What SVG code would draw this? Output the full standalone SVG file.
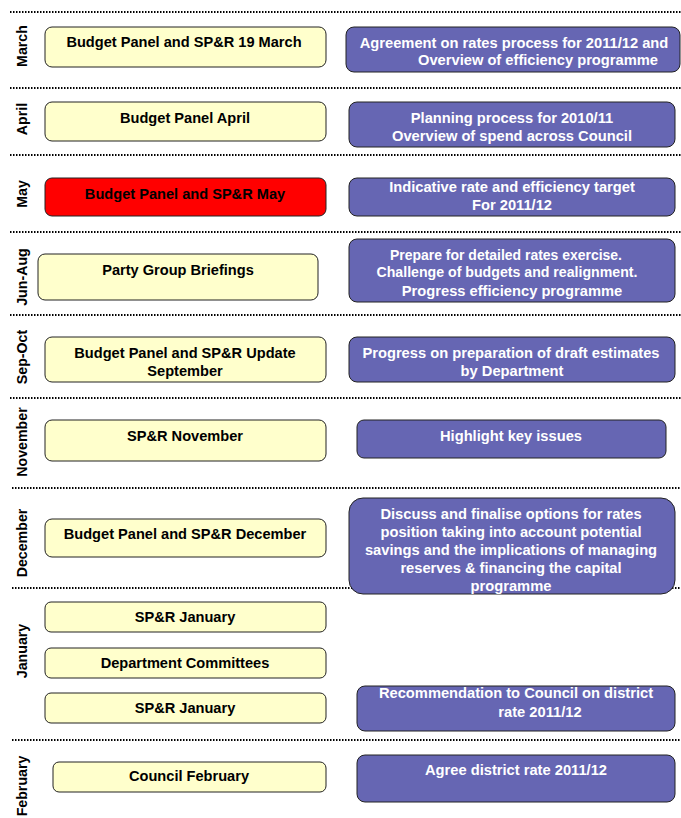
<svg xmlns="http://www.w3.org/2000/svg" width="681" height="818" viewBox="0 0 681 818">
<style>
text{font-family:"Liberation Sans",Arial,sans-serif;font-weight:bold;font-size:14.6px}
.y rect{fill:#FFFFCC;stroke:#222;stroke-width:1}
.r rect{fill:#FF0000;stroke:#222;stroke-width:1}
.p rect{fill:#6666B3;stroke:#222;stroke-width:1}
.y text,.r text{fill:#000;text-anchor:middle}
.p text{fill:#fff;text-anchor:middle;font-size:14.7px}
.m{fill:#000;text-anchor:middle;font-size:14.2px}
.sep line{stroke:#000;stroke-width:2;stroke-dasharray:1.5 1.5}
</style>
<g id="separators" class="sep">
<line x1="10" y1="12" x2="681" y2="12"/>
<line x1="10" y1="88" x2="681" y2="88"/>
<line x1="10" y1="155" x2="681" y2="155"/>
<line x1="10" y1="232" x2="681" y2="232"/>
<line x1="10" y1="315" x2="681" y2="315"/>
<line x1="10" y1="398" x2="681" y2="398"/>
<line x1="12" y1="488" x2="681" y2="488"/>
<line x1="12" y1="588" x2="681" y2="588"/>
<line x1="12" y1="740" x2="681" y2="740"/>
</g>
<g id="months">
<text class="m" transform="translate(27,46) rotate(-90)">March</text>
<text class="m" transform="translate(27,119) rotate(-90)">April</text>
<text class="m" transform="translate(27,194) rotate(-90)">May</text>
<text class="m" transform="translate(27,277) rotate(-90)">Jun-Aug</text>
<text class="m" transform="translate(27,357) rotate(-90)">Sep-Oct</text>
<text class="m" transform="translate(27,442) rotate(-90)">November</text>
<text class="m" transform="translate(27,543) rotate(-90)">December</text>
<text class="m" transform="translate(27,651) rotate(-90)">January</text>
<text class="m" transform="translate(27,786) rotate(-90)">February</text>
</g>
<g id="n-march" class="y"><rect x="45" y="27" width="281" height="40" rx="7"/><text x="184" y="47">Budget Panel and SP&amp;R 19 March</text></g>
<g id="n-april" class="y"><rect x="45" y="102" width="281" height="39" rx="7"/><text x="185" y="123">Budget Panel April</text></g>
<g id="n-may" class="r"><rect x="45" y="178" width="281" height="38" rx="7"/><text x="185" y="199">Budget Panel and SP&amp;R May</text></g>
<g id="n-junaug" class="y"><rect x="38" y="254" width="280" height="46" rx="7"/><text x="178" y="275">Party Group Briefings</text></g>
<g id="n-sepoct" class="y"><rect x="45" y="337" width="281" height="45" rx="7"/><text x="185" y="358">Budget Panel and SP&amp;R Update</text><text x="185" y="376">September</text></g>
<g id="n-november" class="y"><rect x="45" y="420" width="281" height="41" rx="7"/><text x="185" y="441">SP&amp;R November</text></g>
<g id="n-december" class="y"><rect x="45" y="519" width="281" height="38" rx="7"/><text x="185" y="539">Budget Panel and SP&amp;R December</text></g>
<g id="n-jan1" class="y"><rect x="45" y="602" width="281" height="30" rx="6"/><text x="185" y="622">SP&amp;R January</text></g>
<g id="n-jan2" class="y"><rect x="45" y="648" width="281" height="30" rx="6"/><text x="185" y="668">Department Committees</text></g>
<g id="n-jan3" class="y"><rect x="45" y="693" width="281" height="30" rx="6"/><text x="185" y="713">SP&amp;R January</text></g>
<g id="n-feb" class="y"><rect x="53" y="762" width="273" height="30" rx="6"/><text x="189" y="781">Council February</text></g>
<g id="p-march" class="p"><rect x="346" y="27" width="334" height="45" rx="8"/><text x="514" y="48">Agreement on rates process for 2011/12 and</text><text x="538" y="65">Overview of efficiency programme</text></g>
<g id="p-april" class="p"><rect x="349" y="102" width="326" height="45" rx="8"/><text x="512" y="123">Planning process for 2010/11</text><text x="512" y="141">Overview of spend across Council</text></g>
<g id="p-may" class="p"><rect x="349" y="178" width="326" height="38" rx="8"/><text x="512" y="192">Indicative rate and efficiency target</text><text x="512" y="210">For 2011/12</text></g>
<g id="p-junaug" class="p"><rect x="349" y="239" width="326" height="63" rx="8"/><text x="506" y="260" textLength="232" lengthAdjust="spacingAndGlyphs">Prepare for detailed rates exercise.</text><text x="507" y="277" textLength="261" lengthAdjust="spacingAndGlyphs">Challenge of budgets and realignment.</text><text x="512" y="296">Progress efficiency programme</text></g>
<g id="p-sepoct" class="p"><rect x="349" y="337" width="326" height="45" rx="8"/><text x="511" y="358">Progress on preparation of draft estimates</text><text x="512" y="376">by Department</text></g>
<g id="p-november" class="p"><rect x="357" y="420" width="309" height="38" rx="7"/><text x="511" y="441">Highlight key issues</text></g>
<g id="p-december" class="p"><rect x="349" y="498" width="326" height="96" rx="14"/><text x="511" y="519">Discuss and finalise options for rates</text><text x="511" y="537">position taking into account potential</text><text x="511" y="555">savings and the implications of managing</text><text x="511" y="573">reserves &amp; financing the capital</text><text x="511" y="591">programme</text></g>
<g id="p-january" class="p"><rect x="357" y="686" width="318" height="45" rx="8"/><text x="516" y="698">Recommendation to Council on district</text><text x="540" y="717">rate 2011/12</text></g>
<g id="p-february" class="p"><rect x="357" y="755" width="318" height="47" rx="8"/><text x="516" y="775">Agree district rate 2011/12</text></g>
<g id="connectors"/>
</svg>
